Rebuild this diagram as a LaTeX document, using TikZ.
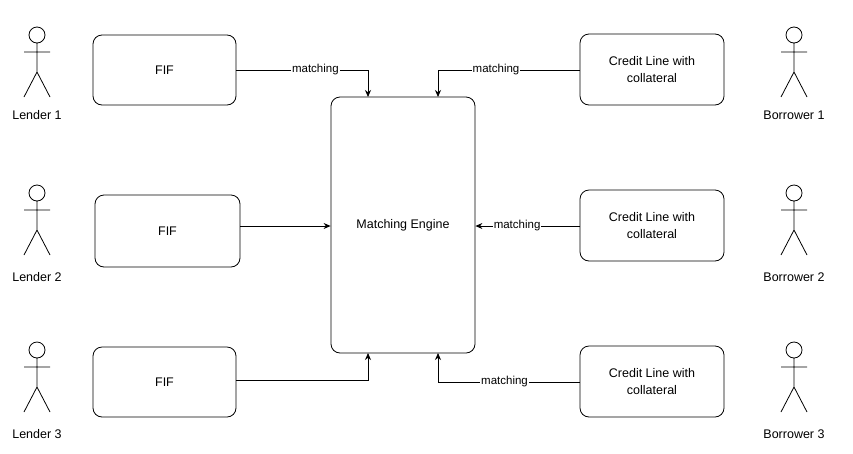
\documentclass[tikz,border=0pt]{standalone}
\usepackage{fontspec}
\setmainfont{Liberation Sans}
\usetikzlibrary{arrows.meta}
\begin{document}
\begin{tikzpicture}[x=1pt,y=-1pt,
  box/.style={draw,rounded corners=9pt,line width=0.8pt,align=center,font=\fontsize{12.5}{17}\selectfont,inner sep=0},
  lbl/.style={font=\fontsize{12.5}{14}\selectfont},
  elbl/.style={fill=white,inner sep=1pt,font=\fontsize{11.5}{13}\selectfont},
  arr/.style={draw,line width=0.8pt,-{Stealth[length=7pt,width=6pt]}},
  actor/.pic={\draw[line width=0.8pt] (0,-62) circle (8) (0,-54) -- (0,-25) (-13,-45) -- (13,-45) (-13,0) -- (0,-25) -- (13,0);}]
\useasboundingbox (0,0) rectangle (853,453);
\node[box,minimum width=143pt,minimum height=70pt] (f1) at (164.5,70) {FIF};
\node[box,minimum width=145pt,minimum height=72pt] (f2) at (167.5,231) {FIF};
\node[box,minimum width=143pt,minimum height=70pt] (f3) at (164.5,382) {FIF};
\node[box,minimum width=144pt,minimum height=256pt] (me) at (403,225) {Matching Engine};
\node[box,minimum width=144pt,minimum height=71pt] (c1) at (652,69.5) {Credit Line with\\collateral};
\node[box,minimum width=144pt,minimum height=71pt] (c2) at (652,225.5) {Credit Line with\\collateral};
\node[box,minimum width=144pt,minimum height=71pt] (c3) at (652,381.5) {Credit Line with\\collateral};
\foreach \i/\y/\ly in {1/97/115,2/255/277,3/412/434}{
  \pic at (37,\y) {actor};
  \node[lbl] (l\i) at (37,\ly) {Lender \i};
  \pic at (794,\y) {actor};
  \node[lbl] (b\i) at (794,\ly) {Borrower \i};
}
\draw[arr] (f1.east |- 0,70) -- (368,70) node[elbl,pos=0.6] {matching} -- (368,97);
\draw[arr] (c1.west |- 0,70) -- (438,70) node[elbl,pos=0.59] {matching} -- (438,97);
\draw[arr] (f2.east |- 0,226) -- (me.west |- 0,226);
\draw[arr] (c2.west |- 0,226) -- (me.east |- 0,226) node[elbl,pos=0.6] {matching};
\draw[arr] (f3.east |- 0,380) -- (368,380) -- (368,353);
\draw[arr] (c3.west |- 0,382) -- (438,382) node[elbl,pos=0.53] {matching} -- (438,353);
\end{tikzpicture}
\end{document}
